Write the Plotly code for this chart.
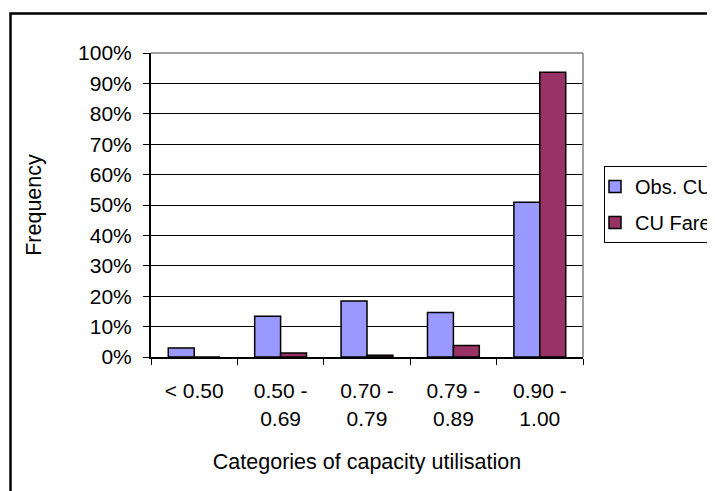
import plotly.graph_objects as go

categories = ["< 0.50", "0.50 - 0.69", "0.70 - 0.79", "0.79 - 0.89", "0.90 - 1.00"]
tick_labels = ["&lt; 0.50", "0.50 -<br>0.69", "0.70 -<br>0.79", "0.79 -<br>0.89", "0.90 -<br>1.00"]
obs_cu = [0.030, 0.134, 0.184, 0.146, 0.509]
cu_fare = [0.000, 0.013, 0.006, 0.038, 0.937]
y_ticks = [0, 0.1, 0.2, 0.3, 0.4, 0.5, 0.6, 0.7, 0.8, 0.9, 1.0]

FONT = "Liberation Sans, Arial, sans-serif"
TICK_FS = 21
TITLE_FS = 21.5
LEG_FS = 20

fig = go.Figure()
fig.add_trace(go.Bar(x=categories, y=obs_cu, name="Obs. CU", legendgroup="a",
                     marker=dict(color="#9999FF", line=dict(color="black", width=1.5))))
fig.add_trace(go.Bar(x=categories, y=cu_fare, name="CU Fare", legendgroup="b",
                     marker=dict(color="#993366", line=dict(color="black", width=1.5))))

# page body has an 8px default margin: compensate so the picture lands in place
OFF = 8
W, H = 715, 491
L, T = 151 - OFF, 53 - OFF
R = W - (583 - OFF)
B = H - (357 - OFF)
pw, ph = W - L - R, H - T - B

def px(x):
    return (x - OFF - L) / pw

def py(y):
    return (H - B - (y - OFF)) / ph

fig.update_layout(
    width=W, height=H,
    margin=dict(l=L, r=R, t=T, b=B, autoexpand=False),
    paper_bgcolor="white", plot_bgcolor="white",
    font=dict(family=FONT, size=TICK_FS, color="black"),
    barmode="group", bargap=0.4, bargroupgap=0,
    showlegend=True,
    legend=dict(x=px(604), y=py(166), xanchor="left", yanchor="top",
                bordercolor="black", borderwidth=1, bgcolor="white",
                font=dict(family=FONT, size=LEG_FS), traceorder="grouped",
                tracegroupgap=7, indentation=-10),
    xaxis=dict(type="category", tickmode="array", tickvals=categories, ticktext=tick_labels,
               tickson="boundaries", ticks="outside", ticklen=6, tickcolor="black",
               showline=True, linecolor="black", linewidth=2, showgrid=False,
               ticklabelstandoff=14, tickfont=dict(size=TICK_FS),
               title=dict(text="Categories of capacity utilisation", standoff=25,
                          font=dict(size=TITLE_FS)),
               automargin=False, range=[-0.5, 4.5]),
    yaxis=dict(range=[0, 1], tickvals=y_ticks, tickformat=".0%", ticks="outside", ticklen=6,
               tickcolor="black", showline=True, linecolor="black", linewidth=2,
               showgrid=True, gridcolor="black", gridwidth=1, zeroline=False,
               ticklabelstandoff=7, tickfont=dict(size=TICK_FS),
               title=dict(text="Frequency", standoff=31, font=dict(size=TITLE_FS)),
               automargin=False),
    shapes=[
        dict(type="rect", xref="paper", yref="paper", x0=px(10.5), x1=px(760), y0=py(540), y1=py(13.5),
             line=dict(color="black", width=2.5), layer="above"),
        dict(type="line", xref="paper", yref="paper", x0=0, x1=1, y0=1, y1=1,
             line=dict(color="#808080", width=1.5), layer="above"),
        dict(type="line", xref="paper", yref="paper", x0=1, x1=1, y0=0, y1=1,
             line=dict(color="#808080", width=1.5), layer="above"),
    ],
)

fig.write_html("out.html")
